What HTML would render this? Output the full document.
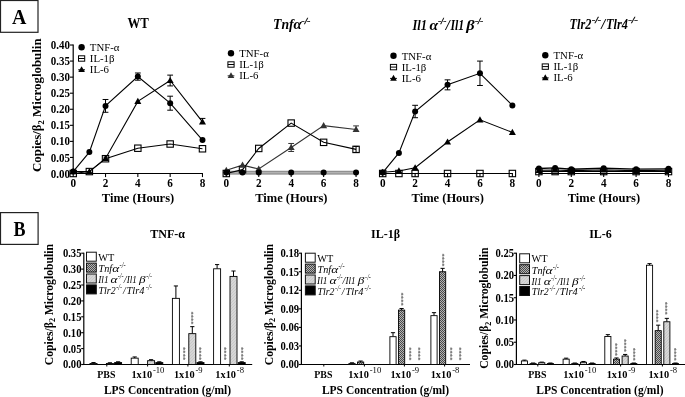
<!DOCTYPE html>
<html><head><meta charset="utf-8"><title>Figure</title>
<style>html,body{margin:0;padding:0;background:#fff;}body{width:685px;height:397px;overflow:hidden;}svg{display:block;font-family:"Liberation Serif",serif;will-change:transform;}</style>
</head><body>
<svg width="685" height="397" viewBox="0 0 685 397">
<defs>
<pattern id="chk" width="2" height="2" patternUnits="userSpaceOnUse"><rect width="2" height="2" fill="#b4b4b4"/><rect width="1" height="1" fill="#4a4a4a"/><rect x="1" y="1" width="1" height="1" fill="#4a4a4a"/></pattern>
<pattern id="hat" width="3" height="3" patternUnits="userSpaceOnUse"><rect width="3" height="3" fill="#d6d6d6"/><path d="M-1 1 L1 -1 M0 3 L3 0 M2 4 L4 2" stroke="#c2c2c2" stroke-width="0.7"/></pattern>
</defs>
<rect width="685" height="397" fill="#fff"/>
<rect x="0.5" y="0.5" width="37.5" height="31.8" fill="#fff" stroke="#222" stroke-width="1.2"/>
<text x="19.25" y="24.00" font-size="21" font-weight="bold" font-style="normal" text-anchor="middle" fill="#000" textLength="14.4" lengthAdjust="spacingAndGlyphs">A</text>
<rect x="0.5" y="212.6" width="37.6" height="31.8" fill="#fff" stroke="#222" stroke-width="1.2"/>
<text x="19.60" y="235.80" font-size="20.5" font-weight="bold" font-style="normal" text-anchor="middle" fill="#000" textLength="12.0" lengthAdjust="spacingAndGlyphs">B</text>
<line x1="73.20" y1="44.52" x2="73.20" y2="174.00" stroke="#000" stroke-width="1.2" />
<line x1="70.00" y1="173.50" x2="73.20" y2="173.50" stroke="#000" stroke-width="1.1" />
<text x="69.90" y="177.60" font-size="12.2" font-weight="bold" font-style="normal" text-anchor="end" fill="#000" textLength="19.2" lengthAdjust="spacingAndGlyphs">0.00</text>
<line x1="70.00" y1="157.44" x2="73.20" y2="157.44" stroke="#000" stroke-width="1.1" />
<text x="69.90" y="161.54" font-size="12.2" font-weight="bold" font-style="normal" text-anchor="end" fill="#000" textLength="19.2" lengthAdjust="spacingAndGlyphs">0.05</text>
<line x1="70.00" y1="141.38" x2="73.20" y2="141.38" stroke="#000" stroke-width="1.1" />
<text x="69.90" y="145.48" font-size="12.2" font-weight="bold" font-style="normal" text-anchor="end" fill="#000" textLength="19.2" lengthAdjust="spacingAndGlyphs">0.10</text>
<line x1="70.00" y1="125.32" x2="73.20" y2="125.32" stroke="#000" stroke-width="1.1" />
<text x="69.90" y="129.42" font-size="12.2" font-weight="bold" font-style="normal" text-anchor="end" fill="#000" textLength="19.2" lengthAdjust="spacingAndGlyphs">0.15</text>
<line x1="70.00" y1="109.26" x2="73.20" y2="109.26" stroke="#000" stroke-width="1.1" />
<text x="69.90" y="113.36" font-size="12.2" font-weight="bold" font-style="normal" text-anchor="end" fill="#000" textLength="19.2" lengthAdjust="spacingAndGlyphs">0.20</text>
<line x1="70.00" y1="93.20" x2="73.20" y2="93.20" stroke="#000" stroke-width="1.1" />
<text x="69.90" y="97.30" font-size="12.2" font-weight="bold" font-style="normal" text-anchor="end" fill="#000" textLength="19.2" lengthAdjust="spacingAndGlyphs">0.25</text>
<line x1="70.00" y1="77.14" x2="73.20" y2="77.14" stroke="#000" stroke-width="1.1" />
<text x="69.90" y="81.24" font-size="12.2" font-weight="bold" font-style="normal" text-anchor="end" fill="#000" textLength="19.2" lengthAdjust="spacingAndGlyphs">0.30</text>
<line x1="70.00" y1="61.08" x2="73.20" y2="61.08" stroke="#000" stroke-width="1.1" />
<text x="69.90" y="65.18" font-size="12.2" font-weight="bold" font-style="normal" text-anchor="end" fill="#000" textLength="19.2" lengthAdjust="spacingAndGlyphs">0.35</text>
<line x1="70.00" y1="45.02" x2="73.20" y2="45.02" stroke="#000" stroke-width="1.1" />
<text x="69.90" y="49.12" font-size="12.2" font-weight="bold" font-style="normal" text-anchor="end" fill="#000" textLength="19.2" lengthAdjust="spacingAndGlyphs">0.40</text>
<text transform="translate(41.4,105.2) rotate(-90)" font-size="12.9" font-weight="bold" text-anchor="middle">Copies/β<tspan font-size="8.5" dy="2.6">2</tspan><tspan dy="-2.6"> Microglobulin</tspan></text>
<line x1="72.70" y1="173.50" x2="202.98" y2="173.50" stroke="#000" stroke-width="1.2" />
<line x1="73.20" y1="173.50" x2="73.20" y2="177.10" stroke="#000" stroke-width="1.1" />
<text x="73.20" y="187.40" font-size="12.2" font-weight="bold" font-style="normal" text-anchor="middle" fill="#000" textLength="5.6" lengthAdjust="spacingAndGlyphs">0</text>
<line x1="105.52" y1="173.50" x2="105.52" y2="177.10" stroke="#000" stroke-width="1.1" />
<text x="105.52" y="187.40" font-size="12.2" font-weight="bold" font-style="normal" text-anchor="middle" fill="#000" textLength="5.6" lengthAdjust="spacingAndGlyphs">2</text>
<line x1="137.84" y1="173.50" x2="137.84" y2="177.10" stroke="#000" stroke-width="1.1" />
<text x="137.84" y="187.40" font-size="12.2" font-weight="bold" font-style="normal" text-anchor="middle" fill="#000" textLength="5.6" lengthAdjust="spacingAndGlyphs">4</text>
<line x1="170.16" y1="173.50" x2="170.16" y2="177.10" stroke="#000" stroke-width="1.1" />
<text x="170.16" y="187.40" font-size="12.2" font-weight="bold" font-style="normal" text-anchor="middle" fill="#000" textLength="5.6" lengthAdjust="spacingAndGlyphs">6</text>
<line x1="202.48" y1="173.50" x2="202.48" y2="177.10" stroke="#000" stroke-width="1.1" />
<text x="202.48" y="187.40" font-size="12.2" font-weight="bold" font-style="normal" text-anchor="middle" fill="#000" textLength="5.6" lengthAdjust="spacingAndGlyphs">8</text>
<text x="138.04" y="202.20" font-size="12.5" font-weight="bold" font-style="normal" text-anchor="middle" fill="#000" >Time (Hours)</text>
<text x="138.20" y="27.90" font-size="14.3" font-weight="bold" font-style="normal" text-anchor="middle" fill="#000" textLength="21.4" lengthAdjust="spacingAndGlyphs">WT</text>
<circle cx="81.60" cy="47.20" r="3.2" fill="#000"/>
<text x="89.80" y="50.90" font-size="10.8" font-weight="normal" font-style="normal" text-anchor="start" fill="#000" >TNF-α</text>
<rect x="78.50" y="55.80" width="6.2" height="5.4" fill="none" stroke="#000" stroke-width="1"/>
<line x1="78.50" y1="58.50" x2="84.70" y2="58.50" stroke="#000" stroke-width="1.0" />
<text x="89.80" y="62.20" font-size="10.8" font-weight="normal" font-style="normal" text-anchor="start" fill="#000" >IL-1β</text>
<path d="M81.60 66.23 L84.90 72.04 L78.30 72.04 Z" fill="#000"/>
<line x1="78.20" y1="69.80" x2="85.00" y2="69.80" stroke="#000" stroke-width="1.0" />
<text x="89.80" y="73.30" font-size="10.8" font-weight="normal" font-style="normal" text-anchor="start" fill="#000" >IL-6</text>
<polyline points="73.20,173.50 89.36,171.57 105.52,158.72 137.84,148.22 170.16,144.01 202.48,148.77" fill="none" stroke="#000" stroke-width="1.1"/>
<polyline points="73.20,171.57 89.36,171.57 105.52,158.50 137.84,101.39 170.16,80.51 202.48,121.92" fill="none" stroke="#000" stroke-width="1.1"/>
<polyline points="73.20,171.57 89.36,152.11 105.52,105.89 137.84,76.59 170.16,103.19 202.48,140.10" fill="none" stroke="#000" stroke-width="1.1"/>
<line x1="105.52" y1="99.49" x2="105.52" y2="112.29" stroke="#000" stroke-width="1.0" />
<line x1="102.62" y1="99.49" x2="108.42" y2="99.49" stroke="#000" stroke-width="1.0" />
<line x1="102.62" y1="112.29" x2="108.42" y2="112.29" stroke="#000" stroke-width="1.0" />
<line x1="137.84" y1="72.99" x2="137.84" y2="80.19" stroke="#000" stroke-width="1.0" />
<line x1="134.94" y1="72.99" x2="140.74" y2="72.99" stroke="#000" stroke-width="1.0" />
<line x1="134.94" y1="80.19" x2="140.74" y2="80.19" stroke="#000" stroke-width="1.0" />
<line x1="170.16" y1="96.19" x2="170.16" y2="110.19" stroke="#000" stroke-width="1.0" />
<line x1="167.26" y1="96.19" x2="173.06" y2="96.19" stroke="#000" stroke-width="1.0" />
<line x1="167.26" y1="110.19" x2="173.06" y2="110.19" stroke="#000" stroke-width="1.0" />
<line x1="170.16" y1="75.11" x2="170.16" y2="85.91" stroke="#000" stroke-width="1.0" />
<line x1="167.26" y1="75.11" x2="173.06" y2="75.11" stroke="#000" stroke-width="1.0" />
<line x1="167.26" y1="85.91" x2="173.06" y2="85.91" stroke="#000" stroke-width="1.0" />
<line x1="202.48" y1="118.42" x2="202.48" y2="121.92" stroke="#000" stroke-width="1.0" />
<line x1="199.58" y1="118.42" x2="205.38" y2="118.42" stroke="#000" stroke-width="1.0" />
<line x1="105.52" y1="157.12" x2="105.52" y2="160.32" stroke="#000" stroke-width="1.0" />
<line x1="103.52" y1="157.12" x2="107.52" y2="157.12" stroke="#000" stroke-width="1.0" />
<line x1="103.52" y1="160.32" x2="107.52" y2="160.32" stroke="#000" stroke-width="1.0" />
<rect x="70.00" y="170.30" width="6.4" height="6.4" fill="none" stroke="#000" stroke-width="1.1"/>
<rect x="86.16" y="168.37" width="6.4" height="6.4" fill="none" stroke="#000" stroke-width="1.1"/>
<rect x="102.32" y="155.52" width="6.4" height="6.4" fill="none" stroke="#000" stroke-width="1.1"/>
<rect x="134.64" y="145.02" width="6.4" height="6.4" fill="none" stroke="#000" stroke-width="1.1"/>
<rect x="166.96" y="140.81" width="6.4" height="6.4" fill="none" stroke="#000" stroke-width="1.1"/>
<rect x="199.28" y="145.57" width="6.4" height="6.4" fill="none" stroke="#000" stroke-width="1.1"/>
<path d="M73.20 168.00 L76.70 174.16 L69.70 174.16 Z" fill="#000"/>
<path d="M89.36 168.00 L92.86 174.16 L85.86 174.16 Z" fill="#000"/>
<path d="M105.52 154.93 L109.02 161.09 L102.02 161.09 Z" fill="#000"/>
<path d="M137.84 97.82 L141.34 103.98 L134.34 103.98 Z" fill="#000"/>
<path d="M170.16 76.94 L173.66 83.10 L166.66 83.10 Z" fill="#000"/>
<path d="M202.48 118.34 L205.98 124.50 L198.98 124.50 Z" fill="#000"/>
<circle cx="73.20" cy="171.57" r="3.0" fill="#000"/>
<circle cx="89.36" cy="152.11" r="3.0" fill="#000"/>
<circle cx="105.52" cy="105.89" r="3.0" fill="#000"/>
<circle cx="137.84" cy="76.59" r="3.0" fill="#000"/>
<circle cx="170.16" cy="103.19" r="3.0" fill="#000"/>
<circle cx="202.48" cy="140.10" r="3.0" fill="#000"/>
<rect x="225.80" y="170.90" width="130.76" height="3.5" fill="#b2b2b2"/>
<line x1="225.80" y1="171.30" x2="356.56" y2="171.30" stroke="#7c7c7c" stroke-width="0.8" />
<line x1="225.80" y1="174.00" x2="356.56" y2="174.00" stroke="#7c7c7c" stroke-width="0.8" />
<line x1="226.30" y1="173.50" x2="226.30" y2="177.10" stroke="#000" stroke-width="1.1" />
<text x="226.30" y="187.40" font-size="12.2" font-weight="bold" font-style="normal" text-anchor="middle" fill="#000" textLength="5.6" lengthAdjust="spacingAndGlyphs">0</text>
<line x1="258.74" y1="173.50" x2="258.74" y2="177.10" stroke="#000" stroke-width="1.1" />
<text x="258.74" y="187.40" font-size="12.2" font-weight="bold" font-style="normal" text-anchor="middle" fill="#000" textLength="5.6" lengthAdjust="spacingAndGlyphs">2</text>
<line x1="291.18" y1="173.50" x2="291.18" y2="177.10" stroke="#000" stroke-width="1.1" />
<text x="291.18" y="187.40" font-size="12.2" font-weight="bold" font-style="normal" text-anchor="middle" fill="#000" textLength="5.6" lengthAdjust="spacingAndGlyphs">4</text>
<line x1="323.62" y1="173.50" x2="323.62" y2="177.10" stroke="#000" stroke-width="1.1" />
<text x="323.62" y="187.40" font-size="12.2" font-weight="bold" font-style="normal" text-anchor="middle" fill="#000" textLength="5.6" lengthAdjust="spacingAndGlyphs">6</text>
<line x1="356.06" y1="173.50" x2="356.06" y2="177.10" stroke="#000" stroke-width="1.1" />
<text x="356.06" y="187.40" font-size="12.2" font-weight="bold" font-style="normal" text-anchor="middle" fill="#000" textLength="5.6" lengthAdjust="spacingAndGlyphs">8</text>
<text x="291.38" y="202.20" font-size="12.5" font-weight="bold" font-style="normal" text-anchor="middle" fill="#000" >Time (Hours)</text>
<text x="273.10" y="29.40" font-size="14.5" font-weight="bold" font-style="italic" text-anchor="start" fill="#000" textLength="20.6" lengthAdjust="spacingAndGlyphs">Tnf</text>
<text x="293.60" y="29.40" font-size="15.5" font-weight="bold" font-style="italic" text-anchor="start" fill="#000" textLength="8.2" lengthAdjust="spacingAndGlyphs">α</text>
<text x="301.6" y="23.6" font-size="9" font-weight="bold" font-style="italic" stroke="#000" stroke-width="0.35" textLength="8.6" lengthAdjust="spacingAndGlyphs">-/-</text>
<circle cx="231.00" cy="53.20" r="3.2" fill="#000"/>
<text x="239.20" y="56.90" font-size="10.8" font-weight="normal" font-style="normal" text-anchor="start" fill="#000" >TNF-α</text>
<rect x="227.90" y="61.80" width="6.2" height="5.4" fill="none" stroke="#000" stroke-width="1"/>
<line x1="227.90" y1="64.50" x2="234.10" y2="64.50" stroke="#000" stroke-width="1.0" />
<text x="239.20" y="68.20" font-size="10.8" font-weight="normal" font-style="normal" text-anchor="start" fill="#000" >IL-1β</text>
<path d="M231.00 72.23 L234.30 78.04 L227.70 78.04 Z" fill="#333"/>
<line x1="227.60" y1="75.80" x2="234.40" y2="75.80" stroke="#333" stroke-width="1.0" />
<text x="239.20" y="79.30" font-size="10.8" font-weight="normal" font-style="normal" text-anchor="start" fill="#000" >IL-6</text>
<polyline points="226.30,170.29 242.52,165.15 258.74,169.00 291.18,147.48 323.62,125.64 356.06,129.50" fill="none" stroke="#333" stroke-width="1.1"/>
<polyline points="226.30,173.50 242.52,169.65 258.74,148.45 291.18,123.07 323.62,142.34 356.06,149.41" fill="none" stroke="#000" stroke-width="1.1"/>
<line x1="291.18" y1="143.48" x2="291.18" y2="151.48" stroke="#333" stroke-width="1.0" />
<line x1="288.28" y1="143.48" x2="294.08" y2="143.48" stroke="#333" stroke-width="1.0" />
<line x1="288.28" y1="151.48" x2="294.08" y2="151.48" stroke="#333" stroke-width="1.0" />
<line x1="356.06" y1="125.90" x2="356.06" y2="129.50" stroke="#333" stroke-width="1.0" />
<line x1="353.16" y1="125.90" x2="358.96" y2="125.90" stroke="#333" stroke-width="1.0" />
<line x1="356.06" y1="146.41" x2="356.06" y2="152.41" stroke="#000" stroke-width="1.0" />
<line x1="353.56" y1="146.41" x2="358.56" y2="146.41" stroke="#000" stroke-width="1.0" />
<line x1="353.56" y1="152.41" x2="358.56" y2="152.41" stroke="#000" stroke-width="1.0" />
<rect x="223.10" y="170.30" width="6.4" height="6.4" fill="none" stroke="#000" stroke-width="1.1"/>
<rect x="239.32" y="166.45" width="6.4" height="6.4" fill="none" stroke="#000" stroke-width="1.1"/>
<rect x="255.54" y="145.25" width="6.4" height="6.4" fill="none" stroke="#000" stroke-width="1.1"/>
<rect x="287.98" y="119.87" width="6.4" height="6.4" fill="none" stroke="#000" stroke-width="1.1"/>
<rect x="320.42" y="139.14" width="6.4" height="6.4" fill="none" stroke="#000" stroke-width="1.1"/>
<rect x="352.86" y="146.21" width="6.4" height="6.4" fill="none" stroke="#000" stroke-width="1.1"/>
<path d="M226.30 166.72 L229.80 172.88 L222.80 172.88 Z" fill="#333"/>
<path d="M242.52 161.58 L246.02 167.74 L239.02 167.74 Z" fill="#333"/>
<path d="M258.74 165.43 L262.24 171.59 L255.24 171.59 Z" fill="#333"/>
<path d="M291.18 143.91 L294.68 150.07 L287.68 150.07 Z" fill="#333"/>
<path d="M323.62 122.07 L327.12 128.23 L320.12 128.23 Z" fill="#333"/>
<path d="M356.06 125.92 L359.56 132.08 L352.56 132.08 Z" fill="#333"/>
<circle cx="226.30" cy="172.54" r="3.0" fill="#000"/>
<circle cx="242.52" cy="172.54" r="3.0" fill="#000"/>
<circle cx="258.74" cy="172.54" r="3.0" fill="#000"/>
<circle cx="291.18" cy="172.54" r="3.0" fill="#000"/>
<circle cx="323.62" cy="172.54" r="3.0" fill="#000"/>
<circle cx="356.06" cy="172.54" r="3.0" fill="#000"/>
<line x1="382.20" y1="173.50" x2="512.88" y2="173.50" stroke="#000" stroke-width="1.2" />
<line x1="382.70" y1="173.50" x2="382.70" y2="177.10" stroke="#000" stroke-width="1.1" />
<text x="382.70" y="187.40" font-size="12.2" font-weight="bold" font-style="normal" text-anchor="middle" fill="#000" textLength="5.6" lengthAdjust="spacingAndGlyphs">0</text>
<line x1="415.12" y1="173.50" x2="415.12" y2="177.10" stroke="#000" stroke-width="1.1" />
<text x="415.12" y="187.40" font-size="12.2" font-weight="bold" font-style="normal" text-anchor="middle" fill="#000" textLength="5.6" lengthAdjust="spacingAndGlyphs">2</text>
<line x1="447.54" y1="173.50" x2="447.54" y2="177.10" stroke="#000" stroke-width="1.1" />
<text x="447.54" y="187.40" font-size="12.2" font-weight="bold" font-style="normal" text-anchor="middle" fill="#000" textLength="5.6" lengthAdjust="spacingAndGlyphs">4</text>
<line x1="479.96" y1="173.50" x2="479.96" y2="177.10" stroke="#000" stroke-width="1.1" />
<text x="479.96" y="187.40" font-size="12.2" font-weight="bold" font-style="normal" text-anchor="middle" fill="#000" textLength="5.6" lengthAdjust="spacingAndGlyphs">6</text>
<line x1="512.38" y1="173.50" x2="512.38" y2="177.10" stroke="#000" stroke-width="1.1" />
<text x="512.38" y="187.40" font-size="12.2" font-weight="bold" font-style="normal" text-anchor="middle" fill="#000" textLength="5.6" lengthAdjust="spacingAndGlyphs">8</text>
<text x="447.74" y="202.20" font-size="12.5" font-weight="bold" font-style="normal" text-anchor="middle" fill="#000" >Time (Hours)</text>
<text x="412.40" y="30.30" font-size="14.5" font-weight="bold" font-style="italic" text-anchor="start" fill="#000" textLength="14.6" lengthAdjust="spacingAndGlyphs">Il1</text>
<text x="429.40" y="30.30" font-size="15.5" font-weight="bold" font-style="italic" text-anchor="start" fill="#000" textLength="8.6" lengthAdjust="spacingAndGlyphs">α</text>
<text x="438.3" y="24.4" font-size="9" font-weight="bold" font-style="italic" stroke="#000" stroke-width="0.35" textLength="8.0" lengthAdjust="spacingAndGlyphs">-/-</text>
<text x="445.80" y="30.30" font-size="14.5" font-weight="bold" font-style="italic" text-anchor="start" fill="#000" >/</text>
<text x="450.40" y="30.30" font-size="14.5" font-weight="bold" font-style="italic" text-anchor="start" fill="#000" textLength="13.8" lengthAdjust="spacingAndGlyphs">Il1</text>
<text x="466.20" y="30.30" font-size="15.5" font-weight="bold" font-style="italic" text-anchor="start" fill="#000" textLength="8.4" lengthAdjust="spacingAndGlyphs">β</text>
<text x="475.2" y="24.4" font-size="9" font-weight="bold" font-style="italic" stroke="#000" stroke-width="0.35" textLength="8.0" lengthAdjust="spacingAndGlyphs">-/-</text>
<circle cx="393.50" cy="55.80" r="3.2" fill="#000"/>
<text x="401.70" y="59.50" font-size="10.8" font-weight="normal" font-style="normal" text-anchor="start" fill="#000" >TNF-α</text>
<rect x="390.40" y="64.40" width="6.2" height="5.4" fill="none" stroke="#000" stroke-width="1"/>
<line x1="390.40" y1="67.10" x2="396.60" y2="67.10" stroke="#000" stroke-width="1.0" />
<text x="401.70" y="70.80" font-size="10.8" font-weight="normal" font-style="normal" text-anchor="start" fill="#000" >IL-1β</text>
<path d="M393.50 74.83 L396.80 80.64 L390.20 80.64 Z" fill="#000"/>
<line x1="390.10" y1="78.40" x2="396.90" y2="78.40" stroke="#000" stroke-width="1.0" />
<text x="401.70" y="81.90" font-size="10.8" font-weight="normal" font-style="normal" text-anchor="start" fill="#000" >IL-6</text>
<polyline points="382.70,173.50 398.91,173.50 415.12,173.50 447.54,173.50 479.96,173.50 512.38,173.50" fill="none" stroke="#000" stroke-width="1.1"/>
<polyline points="382.70,172.22 398.91,170.93 415.12,167.72 447.54,142.02 479.96,119.86 512.38,132.39" fill="none" stroke="#000" stroke-width="1.1"/>
<polyline points="382.70,172.54 398.91,152.94 415.12,111.51 447.54,84.85 479.96,73.29 512.38,105.41" fill="none" stroke="#000" stroke-width="1.1"/>
<line x1="415.12" y1="105.31" x2="415.12" y2="117.71" stroke="#000" stroke-width="1.0" />
<line x1="412.22" y1="105.31" x2="418.02" y2="105.31" stroke="#000" stroke-width="1.0" />
<line x1="412.22" y1="117.71" x2="418.02" y2="117.71" stroke="#000" stroke-width="1.0" />
<line x1="447.54" y1="79.85" x2="447.54" y2="89.85" stroke="#000" stroke-width="1.0" />
<line x1="444.64" y1="79.85" x2="450.44" y2="79.85" stroke="#000" stroke-width="1.0" />
<line x1="444.64" y1="89.85" x2="450.44" y2="89.85" stroke="#000" stroke-width="1.0" />
<line x1="479.96" y1="61.09" x2="479.96" y2="85.49" stroke="#000" stroke-width="1.0" />
<line x1="477.06" y1="61.09" x2="482.86" y2="61.09" stroke="#000" stroke-width="1.0" />
<line x1="477.06" y1="85.49" x2="482.86" y2="85.49" stroke="#000" stroke-width="1.0" />
<rect x="379.50" y="170.30" width="6.4" height="6.4" fill="none" stroke="#000" stroke-width="1.1"/>
<rect x="395.71" y="170.30" width="6.4" height="6.4" fill="none" stroke="#000" stroke-width="1.1"/>
<rect x="411.92" y="170.30" width="6.4" height="6.4" fill="none" stroke="#000" stroke-width="1.1"/>
<rect x="444.34" y="170.30" width="6.4" height="6.4" fill="none" stroke="#000" stroke-width="1.1"/>
<rect x="476.76" y="170.30" width="6.4" height="6.4" fill="none" stroke="#000" stroke-width="1.1"/>
<rect x="509.18" y="170.30" width="6.4" height="6.4" fill="none" stroke="#000" stroke-width="1.1"/>
<path d="M382.70 168.64 L386.20 174.80 L379.20 174.80 Z" fill="#000"/>
<path d="M398.91 167.36 L402.41 173.52 L395.41 173.52 Z" fill="#000"/>
<path d="M415.12 164.15 L418.62 170.31 L411.62 170.31 Z" fill="#000"/>
<path d="M447.54 138.45 L451.04 144.61 L444.04 144.61 Z" fill="#000"/>
<path d="M479.96 116.29 L483.46 122.45 L476.46 122.45 Z" fill="#000"/>
<path d="M512.38 128.81 L515.88 134.97 L508.88 134.97 Z" fill="#000"/>
<circle cx="382.70" cy="172.54" r="3.0" fill="#000"/>
<circle cx="398.91" cy="152.94" r="3.0" fill="#000"/>
<circle cx="415.12" cy="111.51" r="3.0" fill="#000"/>
<circle cx="447.54" cy="84.85" r="3.0" fill="#000"/>
<circle cx="479.96" cy="73.29" r="3.0" fill="#000"/>
<circle cx="512.38" cy="105.41" r="3.0" fill="#000"/>
<line x1="538.40" y1="173.50" x2="669.00" y2="173.50" stroke="#000" stroke-width="1.2" />
<line x1="538.90" y1="173.50" x2="538.90" y2="177.10" stroke="#000" stroke-width="1.1" />
<text x="538.90" y="187.40" font-size="12.2" font-weight="bold" font-style="normal" text-anchor="middle" fill="#000" textLength="5.6" lengthAdjust="spacingAndGlyphs">0</text>
<line x1="571.30" y1="173.50" x2="571.30" y2="177.10" stroke="#000" stroke-width="1.1" />
<text x="571.30" y="187.40" font-size="12.2" font-weight="bold" font-style="normal" text-anchor="middle" fill="#000" textLength="5.6" lengthAdjust="spacingAndGlyphs">2</text>
<line x1="603.70" y1="173.50" x2="603.70" y2="177.10" stroke="#000" stroke-width="1.1" />
<text x="603.70" y="187.40" font-size="12.2" font-weight="bold" font-style="normal" text-anchor="middle" fill="#000" textLength="5.6" lengthAdjust="spacingAndGlyphs">4</text>
<line x1="636.10" y1="173.50" x2="636.10" y2="177.10" stroke="#000" stroke-width="1.1" />
<text x="636.10" y="187.40" font-size="12.2" font-weight="bold" font-style="normal" text-anchor="middle" fill="#000" textLength="5.6" lengthAdjust="spacingAndGlyphs">6</text>
<line x1="668.50" y1="173.50" x2="668.50" y2="177.10" stroke="#000" stroke-width="1.1" />
<text x="668.50" y="187.40" font-size="12.2" font-weight="bold" font-style="normal" text-anchor="middle" fill="#000" textLength="5.6" lengthAdjust="spacingAndGlyphs">8</text>
<text x="603.90" y="202.20" font-size="12.5" font-weight="bold" font-style="normal" text-anchor="middle" fill="#000" >Time (Hours)</text>
<text x="569.60" y="29.20" font-size="14.5" font-weight="bold" font-style="italic" text-anchor="start" fill="#000" textLength="21.9" lengthAdjust="spacingAndGlyphs">Tlr2</text>
<text x="592.0" y="23.2" font-size="9" font-weight="bold" font-style="italic" stroke="#000" stroke-width="0.35" textLength="9.0" lengthAdjust="spacingAndGlyphs">-/-</text>
<text x="601.20" y="29.20" font-size="14.5" font-weight="bold" font-style="italic" text-anchor="start" fill="#000" >/</text>
<text x="606.10" y="29.20" font-size="14.5" font-weight="bold" font-style="italic" text-anchor="start" fill="#000" textLength="21.9" lengthAdjust="spacingAndGlyphs">Tlr4</text>
<text x="628.6" y="23.2" font-size="9" font-weight="bold" font-style="italic" stroke="#000" stroke-width="0.35" textLength="9.2" lengthAdjust="spacingAndGlyphs">-/-</text>
<circle cx="545.30" cy="55.30" r="3.2" fill="#000"/>
<text x="553.50" y="59.00" font-size="10.8" font-weight="normal" font-style="normal" text-anchor="start" fill="#000" >TNF-α</text>
<rect x="542.20" y="63.90" width="6.2" height="5.4" fill="none" stroke="#000" stroke-width="1"/>
<line x1="542.20" y1="66.60" x2="548.40" y2="66.60" stroke="#000" stroke-width="1.0" />
<text x="553.50" y="70.30" font-size="10.8" font-weight="normal" font-style="normal" text-anchor="start" fill="#000" >IL-1β</text>
<path d="M545.30 74.33 L548.60 80.14 L542.00 80.14 Z" fill="#000"/>
<line x1="541.90" y1="77.90" x2="548.70" y2="77.90" stroke="#000" stroke-width="1.0" />
<text x="553.50" y="81.40" font-size="10.8" font-weight="normal" font-style="normal" text-anchor="start" fill="#000" >IL-6</text>
<polyline points="538.90,171.57 555.10,171.57 571.30,171.57 603.70,171.57 636.10,171.57 668.50,171.57" fill="none" stroke="#000" stroke-width="1.1"/>
<polyline points="538.90,170.29 555.10,169.97 571.30,170.61 603.70,169.97 636.10,170.61 668.50,170.29" fill="none" stroke="#000" stroke-width="1.1"/>
<polyline points="538.90,168.52 555.10,167.88 571.30,169.32 603.70,168.20 636.10,169.16 668.50,168.84" fill="none" stroke="#000" stroke-width="1.4"/>
<rect x="535.70" y="168.37" width="6.4" height="6.4" fill="none" stroke="#000" stroke-width="1.1"/>
<rect x="551.90" y="168.37" width="6.4" height="6.4" fill="none" stroke="#000" stroke-width="1.1"/>
<rect x="568.10" y="168.37" width="6.4" height="6.4" fill="none" stroke="#000" stroke-width="1.1"/>
<rect x="600.50" y="168.37" width="6.4" height="6.4" fill="none" stroke="#000" stroke-width="1.1"/>
<rect x="632.90" y="168.37" width="6.4" height="6.4" fill="none" stroke="#000" stroke-width="1.1"/>
<rect x="665.30" y="168.37" width="6.4" height="6.4" fill="none" stroke="#000" stroke-width="1.1"/>
<path d="M538.90 166.72 L542.40 172.88 L535.40 172.88 Z" fill="#000"/>
<path d="M555.10 166.39 L558.60 172.55 L551.60 172.55 Z" fill="#000"/>
<path d="M571.30 167.04 L574.80 173.20 L567.80 173.20 Z" fill="#000"/>
<path d="M603.70 166.39 L607.20 172.55 L600.20 172.55 Z" fill="#000"/>
<path d="M636.10 167.04 L639.60 173.20 L632.60 173.20 Z" fill="#000"/>
<path d="M668.50 166.72 L672.00 172.88 L665.00 172.88 Z" fill="#000"/>
<circle cx="538.90" cy="168.52" r="3.0" fill="#000"/>
<circle cx="555.10" cy="167.88" r="3.0" fill="#000"/>
<circle cx="571.30" cy="169.32" r="3.0" fill="#000"/>
<circle cx="603.70" cy="168.20" r="3.0" fill="#000"/>
<circle cx="636.10" cy="169.16" r="3.0" fill="#000"/>
<circle cx="668.50" cy="168.84" r="3.0" fill="#000"/>
<line x1="83.80" y1="252.70" x2="83.80" y2="365.00" stroke="#000" stroke-width="1.2" />
<line x1="83.30" y1="364.50" x2="252.20" y2="364.50" stroke="#000" stroke-width="1.2" />
<line x1="81.20" y1="364.50" x2="83.80" y2="364.50" stroke="#000" stroke-width="1.1" />
<text x="81.50" y="368.40" font-size="11.5" font-weight="bold" font-style="normal" text-anchor="end" fill="#000" textLength="18.6" lengthAdjust="spacingAndGlyphs">0.00</text>
<line x1="81.20" y1="348.60" x2="83.80" y2="348.60" stroke="#000" stroke-width="1.1" />
<text x="81.50" y="352.50" font-size="11.5" font-weight="bold" font-style="normal" text-anchor="end" fill="#000" textLength="18.6" lengthAdjust="spacingAndGlyphs">0.05</text>
<line x1="81.20" y1="332.70" x2="83.80" y2="332.70" stroke="#000" stroke-width="1.1" />
<text x="81.50" y="336.60" font-size="11.5" font-weight="bold" font-style="normal" text-anchor="end" fill="#000" textLength="18.6" lengthAdjust="spacingAndGlyphs">0.10</text>
<line x1="81.20" y1="316.80" x2="83.80" y2="316.80" stroke="#000" stroke-width="1.1" />
<text x="81.50" y="320.70" font-size="11.5" font-weight="bold" font-style="normal" text-anchor="end" fill="#000" textLength="18.6" lengthAdjust="spacingAndGlyphs">0.15</text>
<line x1="81.20" y1="300.90" x2="83.80" y2="300.90" stroke="#000" stroke-width="1.1" />
<text x="81.50" y="304.80" font-size="11.5" font-weight="bold" font-style="normal" text-anchor="end" fill="#000" textLength="18.6" lengthAdjust="spacingAndGlyphs">0.20</text>
<line x1="81.20" y1="285.00" x2="83.80" y2="285.00" stroke="#000" stroke-width="1.1" />
<text x="81.50" y="288.90" font-size="11.5" font-weight="bold" font-style="normal" text-anchor="end" fill="#000" textLength="18.6" lengthAdjust="spacingAndGlyphs">0.25</text>
<line x1="81.20" y1="269.10" x2="83.80" y2="269.10" stroke="#000" stroke-width="1.1" />
<text x="81.50" y="273.00" font-size="11.5" font-weight="bold" font-style="normal" text-anchor="end" fill="#000" textLength="18.6" lengthAdjust="spacingAndGlyphs">0.30</text>
<line x1="81.20" y1="253.20" x2="83.80" y2="253.20" stroke="#000" stroke-width="1.1" />
<text x="81.50" y="257.10" font-size="11.5" font-weight="bold" font-style="normal" text-anchor="end" fill="#000" textLength="18.6" lengthAdjust="spacingAndGlyphs">0.35</text>
<text transform="translate(52.7,304.6) rotate(-90)" font-size="11.7" font-weight="bold" text-anchor="middle">Copies/β<tspan font-size="8" dy="2.4">2</tspan><tspan dy="-2.4"> Microglobulin</tspan></text>
<text x="167.70" y="238.00" font-size="12" font-weight="bold" font-style="normal" text-anchor="middle" fill="#000" >TNF-α</text>
<line x1="106.80" y1="364.50" x2="106.80" y2="366.50" stroke="#000" stroke-width="1.0" />
<text x="106.40" y="378.20" font-size="10.8" font-weight="bold" font-style="normal" text-anchor="middle" fill="#000" textLength="18.2" lengthAdjust="spacingAndGlyphs">PBS</text>
<line x1="93.50" y1="362.55" x2="93.50" y2="363.55" stroke="#000" stroke-width="1.0" />
<line x1="91.40" y1="362.55" x2="95.60" y2="362.55" stroke="#000" stroke-width="1.0" />
<rect x="90.00" y="363.55" width="7.00" height="0.95" fill="#fff" stroke="#000" stroke-width="0.9"/>
<line x1="109.90" y1="362.75" x2="109.90" y2="363.55" stroke="#000" stroke-width="1.0" />
<line x1="107.80" y1="362.75" x2="112.00" y2="362.75" stroke="#000" stroke-width="1.0" />
<rect x="106.40" y="363.55" width="7.00" height="0.95" fill="url(#hat)" stroke="#000" stroke-width="0.9"/>
<line x1="118.10" y1="361.79" x2="118.10" y2="362.59" stroke="#000" stroke-width="1.0" />
<line x1="116.00" y1="361.79" x2="120.20" y2="361.79" stroke="#000" stroke-width="1.0" />
<rect x="114.60" y="362.59" width="7.00" height="1.91" fill="#000" stroke="#000" stroke-width="0.9"/>
<line x1="147.60" y1="364.50" x2="147.60" y2="366.50" stroke="#000" stroke-width="1.0" />
<text x="131.45" y="378.10" font-size="10.8" font-weight="bold" font-style="normal" text-anchor="start" fill="#000" textLength="20.7" lengthAdjust="spacingAndGlyphs">1x10</text>
<text x="152.95" y="373.00" font-size="8.6" font-weight="normal" font-style="normal" text-anchor="start" fill="#000" >-10</text>
<line x1="134.70" y1="356.94" x2="134.70" y2="358.14" stroke="#000" stroke-width="1.0" />
<line x1="132.60" y1="356.94" x2="136.80" y2="356.94" stroke="#000" stroke-width="1.0" />
<rect x="131.20" y="358.14" width="7.00" height="6.36" fill="#fff" stroke="#000" stroke-width="0.9"/>
<line x1="151.10" y1="359.68" x2="151.10" y2="360.68" stroke="#000" stroke-width="1.0" />
<line x1="149.00" y1="359.68" x2="153.20" y2="359.68" stroke="#000" stroke-width="1.0" />
<rect x="147.60" y="360.68" width="7.00" height="3.82" fill="url(#hat)" stroke="#000" stroke-width="0.9"/>
<line x1="159.30" y1="361.79" x2="159.30" y2="362.59" stroke="#000" stroke-width="1.0" />
<line x1="157.20" y1="361.79" x2="161.40" y2="361.79" stroke="#000" stroke-width="1.0" />
<rect x="155.80" y="362.59" width="7.00" height="1.91" fill="#000" stroke="#000" stroke-width="0.9"/>
<line x1="187.90" y1="364.50" x2="187.90" y2="366.50" stroke="#000" stroke-width="1.0" />
<text x="173.95" y="378.10" font-size="10.8" font-weight="bold" font-style="normal" text-anchor="start" fill="#000" textLength="20.7" lengthAdjust="spacingAndGlyphs">1x10</text>
<text x="195.45" y="373.00" font-size="8.6" font-weight="normal" font-style="normal" text-anchor="start" fill="#000" >-9</text>
<line x1="175.90" y1="285.96" x2="175.90" y2="298.36" stroke="#000" stroke-width="1.0" />
<line x1="173.80" y1="285.96" x2="178.00" y2="285.96" stroke="#000" stroke-width="1.0" />
<rect x="172.40" y="298.36" width="7.00" height="66.14" fill="#fff" stroke="#000" stroke-width="0.9"/>
<text transform="translate(186.90,360.20) rotate(-90)" font-size="6.6" font-weight="bold" fill="#505050" letter-spacing="0">****</text>
<line x1="192.30" y1="326.65" x2="192.30" y2="333.65" stroke="#000" stroke-width="1.0" />
<line x1="190.20" y1="326.65" x2="194.40" y2="326.65" stroke="#000" stroke-width="1.0" />
<rect x="188.80" y="333.65" width="7.00" height="30.85" fill="url(#hat)" stroke="#000" stroke-width="0.9"/>
<line x1="200.50" y1="361.79" x2="200.50" y2="362.59" stroke="#000" stroke-width="1.0" />
<line x1="198.40" y1="361.79" x2="202.60" y2="361.79" stroke="#000" stroke-width="1.0" />
<rect x="197.00" y="362.59" width="7.00" height="1.91" fill="#000" stroke="#000" stroke-width="0.9"/>
<line x1="229.30" y1="364.50" x2="229.30" y2="366.50" stroke="#000" stroke-width="1.0" />
<text x="215.35" y="378.10" font-size="10.8" font-weight="bold" font-style="normal" text-anchor="start" fill="#000" textLength="20.7" lengthAdjust="spacingAndGlyphs">1x10</text>
<text x="236.85" y="373.00" font-size="8.6" font-weight="normal" font-style="normal" text-anchor="start" fill="#000" >-8</text>
<line x1="217.10" y1="264.58" x2="217.10" y2="268.78" stroke="#000" stroke-width="1.0" />
<line x1="215.00" y1="264.58" x2="219.20" y2="264.58" stroke="#000" stroke-width="1.0" />
<rect x="213.60" y="268.78" width="7.00" height="95.72" fill="#fff" stroke="#000" stroke-width="0.9"/>
<text transform="translate(228.10,360.20) rotate(-90)" font-size="6.6" font-weight="bold" fill="#505050" letter-spacing="0">****</text>
<line x1="233.50" y1="271.01" x2="233.50" y2="276.41" stroke="#000" stroke-width="1.0" />
<line x1="231.40" y1="271.01" x2="235.60" y2="271.01" stroke="#000" stroke-width="1.0" />
<rect x="230.00" y="276.41" width="7.00" height="88.09" fill="url(#hat)" stroke="#000" stroke-width="0.9"/>
<line x1="241.70" y1="361.79" x2="241.70" y2="362.59" stroke="#000" stroke-width="1.0" />
<line x1="239.60" y1="361.79" x2="243.80" y2="361.79" stroke="#000" stroke-width="1.0" />
<rect x="238.20" y="362.59" width="7.00" height="1.91" fill="#000" stroke="#000" stroke-width="0.9"/>
<text x="167.50" y="393.50" font-size="11.5" font-weight="bold" font-style="normal" text-anchor="middle" fill="#000" >LPS Concentration (g/ml)</text>
<rect x="86.50" y="252.20" width="9.8" height="9.0" fill="#fff" stroke="#111" stroke-width="1"/>
<rect x="86.50" y="263.10" width="9.8" height="9.0" fill="url(#chk)" stroke="#111" stroke-width="1"/>
<rect x="86.50" y="274.00" width="9.8" height="9.0" fill="url(#hat)" stroke="#111" stroke-width="1"/>
<rect x="86.50" y="284.90" width="9.8" height="9.0" fill="#000" stroke="#111" stroke-width="1"/>
<text x="98.30" y="260.60" font-size="10.5" font-weight="normal" font-style="normal" text-anchor="start" fill="#000" textLength="16.0" lengthAdjust="spacingAndGlyphs">WT</text>
<text x="98.60" y="272.00" font-size="9.8" font-weight="normal" font-style="italic" text-anchor="start" fill="#000" textLength="13.6" lengthAdjust="spacingAndGlyphs">Tnf</text>
<text x="112.30" y="272.00" font-size="11.0" font-weight="normal" font-style="italic" text-anchor="start" fill="#000" textLength="7.0" lengthAdjust="spacingAndGlyphs">α</text>
<text x="119.60" y="268.10" font-size="7.6" font-weight="normal" font-style="italic" text-anchor="start" fill="#000" textLength="6.0" lengthAdjust="spacingAndGlyphs">-/-</text>
<text x="98.20" y="283.00" font-size="9.8" font-weight="normal" font-style="italic" text-anchor="start" fill="#000" textLength="10.4" lengthAdjust="spacingAndGlyphs">Il1</text>
<text x="110.60" y="283.00" font-size="11.0" font-weight="normal" font-style="italic" text-anchor="start" fill="#000" textLength="7.0" lengthAdjust="spacingAndGlyphs">α</text>
<text x="117.80" y="279.10" font-size="7.6" font-weight="normal" font-style="italic" text-anchor="start" fill="#000" textLength="5.8" lengthAdjust="spacingAndGlyphs">-/-</text>
<text x="123.70" y="283.00" font-size="9.8" font-weight="normal" font-style="italic" text-anchor="start" fill="#000" >/</text>
<text x="126.70" y="283.00" font-size="9.8" font-weight="normal" font-style="italic" text-anchor="start" fill="#000" textLength="10.0" lengthAdjust="spacingAndGlyphs">Il1</text>
<text x="138.90" y="283.00" font-size="11.0" font-weight="normal" font-style="italic" text-anchor="start" fill="#000" textLength="6.6" lengthAdjust="spacingAndGlyphs">β</text>
<text x="146.20" y="279.10" font-size="7.6" font-weight="normal" font-style="italic" text-anchor="start" fill="#000" textLength="5.8" lengthAdjust="spacingAndGlyphs">-/-</text>
<text x="98.60" y="293.60" font-size="9.8" font-weight="normal" font-style="italic" text-anchor="start" fill="#000" textLength="17.0" lengthAdjust="spacingAndGlyphs">Tlr2</text>
<text x="116.20" y="289.70" font-size="7.6" font-weight="normal" font-style="italic" text-anchor="start" fill="#000" textLength="6.0" lengthAdjust="spacingAndGlyphs">-/-</text>
<text x="122.90" y="293.60" font-size="9.8" font-weight="normal" font-style="italic" text-anchor="start" fill="#000" >/</text>
<text x="126.60" y="293.60" font-size="9.8" font-weight="normal" font-style="italic" text-anchor="start" fill="#000" textLength="17.9" lengthAdjust="spacingAndGlyphs">Tlr4</text>
<text x="145.70" y="289.70" font-size="7.6" font-weight="normal" font-style="italic" text-anchor="start" fill="#000" textLength="6.4" lengthAdjust="spacingAndGlyphs">-/-</text>
<text transform="translate(195.00,324.60) rotate(-90)" font-size="6.6" font-weight="bold" fill="#505050" letter-spacing="0">****</text>
<text transform="translate(203.40,360.20) rotate(-90)" font-size="6.6" font-weight="bold" fill="#505050" letter-spacing="0">****</text>
<text transform="translate(244.60,360.20) rotate(-90)" font-size="6.6" font-weight="bold" fill="#505050" letter-spacing="0">****</text>
<line x1="301.40" y1="252.70" x2="301.40" y2="365.00" stroke="#000" stroke-width="1.2" />
<line x1="300.90" y1="364.50" x2="470.00" y2="364.50" stroke="#000" stroke-width="1.2" />
<line x1="298.80" y1="364.50" x2="301.40" y2="364.50" stroke="#000" stroke-width="1.1" />
<text x="299.10" y="368.40" font-size="11.5" font-weight="bold" font-style="normal" text-anchor="end" fill="#000" textLength="18.6" lengthAdjust="spacingAndGlyphs">0.00</text>
<line x1="298.80" y1="345.95" x2="301.40" y2="345.95" stroke="#000" stroke-width="1.1" />
<text x="299.10" y="349.85" font-size="11.5" font-weight="bold" font-style="normal" text-anchor="end" fill="#000" textLength="18.6" lengthAdjust="spacingAndGlyphs">0.03</text>
<line x1="298.80" y1="327.40" x2="301.40" y2="327.40" stroke="#000" stroke-width="1.1" />
<text x="299.10" y="331.30" font-size="11.5" font-weight="bold" font-style="normal" text-anchor="end" fill="#000" textLength="18.6" lengthAdjust="spacingAndGlyphs">0.06</text>
<line x1="298.80" y1="308.85" x2="301.40" y2="308.85" stroke="#000" stroke-width="1.1" />
<text x="299.10" y="312.75" font-size="11.5" font-weight="bold" font-style="normal" text-anchor="end" fill="#000" textLength="18.6" lengthAdjust="spacingAndGlyphs">0.09</text>
<line x1="298.80" y1="290.30" x2="301.40" y2="290.30" stroke="#000" stroke-width="1.1" />
<text x="299.10" y="294.20" font-size="11.5" font-weight="bold" font-style="normal" text-anchor="end" fill="#000" textLength="18.6" lengthAdjust="spacingAndGlyphs">0.12</text>
<line x1="298.80" y1="271.75" x2="301.40" y2="271.75" stroke="#000" stroke-width="1.1" />
<text x="299.10" y="275.65" font-size="11.5" font-weight="bold" font-style="normal" text-anchor="end" fill="#000" textLength="18.6" lengthAdjust="spacingAndGlyphs">0.15</text>
<line x1="298.80" y1="253.20" x2="301.40" y2="253.20" stroke="#000" stroke-width="1.1" />
<text x="299.10" y="257.10" font-size="11.5" font-weight="bold" font-style="normal" text-anchor="end" fill="#000" textLength="18.6" lengthAdjust="spacingAndGlyphs">0.18</text>
<text transform="translate(272.5,304.6) rotate(-90)" font-size="11.7" font-weight="bold" text-anchor="middle">Copies/β<tspan font-size="8" dy="2.4">2</tspan><tspan dy="-2.4"> Microglobulin</tspan></text>
<text x="385.50" y="238.00" font-size="12" font-weight="bold" font-style="normal" text-anchor="middle" fill="#000" >IL-1β</text>
<line x1="323.80" y1="364.50" x2="323.80" y2="366.50" stroke="#000" stroke-width="1.0" />
<text x="323.40" y="378.20" font-size="10.8" font-weight="bold" font-style="normal" text-anchor="middle" fill="#000" textLength="18.2" lengthAdjust="spacingAndGlyphs">PBS</text>
<line x1="364.40" y1="364.50" x2="364.40" y2="366.50" stroke="#000" stroke-width="1.0" />
<text x="348.25" y="378.10" font-size="10.8" font-weight="bold" font-style="normal" text-anchor="start" fill="#000" textLength="20.7" lengthAdjust="spacingAndGlyphs">1x10</text>
<text x="369.75" y="373.00" font-size="8.6" font-weight="normal" font-style="normal" text-anchor="start" fill="#000" >-10</text>
<line x1="352.00" y1="362.77" x2="352.00" y2="363.57" stroke="#000" stroke-width="1.0" />
<line x1="349.90" y1="362.77" x2="354.10" y2="362.77" stroke="#000" stroke-width="1.0" />
<rect x="348.90" y="363.57" width="6.20" height="0.93" fill="#fff" stroke="#000" stroke-width="0.9"/>
<line x1="360.60" y1="361.03" x2="360.60" y2="362.03" stroke="#000" stroke-width="1.0" />
<line x1="358.50" y1="361.03" x2="362.70" y2="361.03" stroke="#000" stroke-width="1.0" />
<rect x="357.50" y="362.03" width="6.20" height="2.47" fill="url(#chk)" stroke="#000" stroke-width="0.9"/>
<line x1="404.40" y1="364.50" x2="404.40" y2="366.50" stroke="#000" stroke-width="1.0" />
<text x="390.45" y="378.10" font-size="10.8" font-weight="bold" font-style="normal" text-anchor="start" fill="#000" textLength="20.7" lengthAdjust="spacingAndGlyphs">1x10</text>
<text x="411.95" y="373.00" font-size="8.6" font-weight="normal" font-style="normal" text-anchor="start" fill="#000" >-9</text>
<line x1="393.00" y1="332.68" x2="393.00" y2="336.68" stroke="#000" stroke-width="1.0" />
<line x1="390.90" y1="332.68" x2="395.10" y2="332.68" stroke="#000" stroke-width="1.0" />
<rect x="389.90" y="336.68" width="6.20" height="27.82" fill="#fff" stroke="#000" stroke-width="0.9"/>
<line x1="401.60" y1="308.49" x2="401.60" y2="310.09" stroke="#000" stroke-width="1.0" />
<line x1="399.50" y1="308.49" x2="403.70" y2="308.49" stroke="#000" stroke-width="1.0" />
<rect x="398.50" y="310.09" width="6.20" height="54.41" fill="url(#chk)" stroke="#000" stroke-width="0.9"/>
<text transform="translate(413.00,360.40) rotate(-90)" font-size="6.6" font-weight="bold" fill="#505050" letter-spacing="0">****</text>
<text transform="translate(421.60,360.40) rotate(-90)" font-size="6.6" font-weight="bold" fill="#505050" letter-spacing="0">****</text>
<line x1="444.60" y1="364.50" x2="444.60" y2="366.50" stroke="#000" stroke-width="1.0" />
<text x="430.65" y="378.10" font-size="10.8" font-weight="bold" font-style="normal" text-anchor="start" fill="#000" textLength="20.7" lengthAdjust="spacingAndGlyphs">1x10</text>
<text x="452.15" y="373.00" font-size="8.6" font-weight="normal" font-style="normal" text-anchor="start" fill="#000" >-8</text>
<line x1="434.00" y1="312.65" x2="434.00" y2="315.65" stroke="#000" stroke-width="1.0" />
<line x1="431.90" y1="312.65" x2="436.10" y2="312.65" stroke="#000" stroke-width="1.0" />
<rect x="430.90" y="315.65" width="6.20" height="48.85" fill="#fff" stroke="#000" stroke-width="0.9"/>
<line x1="442.60" y1="268.35" x2="442.60" y2="271.75" stroke="#000" stroke-width="1.0" />
<line x1="440.50" y1="268.35" x2="444.70" y2="268.35" stroke="#000" stroke-width="1.0" />
<rect x="439.50" y="271.75" width="6.20" height="92.75" fill="url(#chk)" stroke="#000" stroke-width="0.9"/>
<text transform="translate(454.00,360.40) rotate(-90)" font-size="6.6" font-weight="bold" fill="#505050" letter-spacing="0">****</text>
<text transform="translate(462.60,360.40) rotate(-90)" font-size="6.6" font-weight="bold" fill="#505050" letter-spacing="0">****</text>
<text x="385.50" y="393.50" font-size="11.5" font-weight="bold" font-style="normal" text-anchor="middle" fill="#000" >LPS Concentration (g/ml)</text>
<rect x="305.40" y="253.20" width="9.8" height="9.0" fill="#fff" stroke="#111" stroke-width="1"/>
<rect x="305.40" y="264.10" width="9.8" height="9.0" fill="url(#chk)" stroke="#111" stroke-width="1"/>
<rect x="305.40" y="275.00" width="9.8" height="9.0" fill="url(#hat)" stroke="#111" stroke-width="1"/>
<rect x="305.40" y="285.90" width="9.8" height="9.0" fill="#000" stroke="#111" stroke-width="1"/>
<text x="317.20" y="261.60" font-size="10.5" font-weight="normal" font-style="normal" text-anchor="start" fill="#000" textLength="16.0" lengthAdjust="spacingAndGlyphs">WT</text>
<text x="317.50" y="273.00" font-size="9.8" font-weight="normal" font-style="italic" text-anchor="start" fill="#000" textLength="13.6" lengthAdjust="spacingAndGlyphs">Tnf</text>
<text x="331.20" y="273.00" font-size="11.0" font-weight="normal" font-style="italic" text-anchor="start" fill="#000" textLength="7.0" lengthAdjust="spacingAndGlyphs">α</text>
<text x="338.50" y="269.10" font-size="7.6" font-weight="normal" font-style="italic" text-anchor="start" fill="#000" textLength="6.0" lengthAdjust="spacingAndGlyphs">-/-</text>
<text x="317.10" y="284.00" font-size="9.8" font-weight="normal" font-style="italic" text-anchor="start" fill="#000" textLength="10.4" lengthAdjust="spacingAndGlyphs">Il1</text>
<text x="329.50" y="284.00" font-size="11.0" font-weight="normal" font-style="italic" text-anchor="start" fill="#000" textLength="7.0" lengthAdjust="spacingAndGlyphs">α</text>
<text x="336.70" y="280.10" font-size="7.6" font-weight="normal" font-style="italic" text-anchor="start" fill="#000" textLength="5.8" lengthAdjust="spacingAndGlyphs">-/-</text>
<text x="342.60" y="284.00" font-size="9.8" font-weight="normal" font-style="italic" text-anchor="start" fill="#000" >/</text>
<text x="345.60" y="284.00" font-size="9.8" font-weight="normal" font-style="italic" text-anchor="start" fill="#000" textLength="10.0" lengthAdjust="spacingAndGlyphs">Il1</text>
<text x="357.80" y="284.00" font-size="11.0" font-weight="normal" font-style="italic" text-anchor="start" fill="#000" textLength="6.6" lengthAdjust="spacingAndGlyphs">β</text>
<text x="365.10" y="280.10" font-size="7.6" font-weight="normal" font-style="italic" text-anchor="start" fill="#000" textLength="5.8" lengthAdjust="spacingAndGlyphs">-/-</text>
<text x="317.50" y="294.60" font-size="9.8" font-weight="normal" font-style="italic" text-anchor="start" fill="#000" textLength="17.0" lengthAdjust="spacingAndGlyphs">Tlr2</text>
<text x="335.10" y="290.70" font-size="7.6" font-weight="normal" font-style="italic" text-anchor="start" fill="#000" textLength="6.0" lengthAdjust="spacingAndGlyphs">-/-</text>
<text x="341.80" y="294.60" font-size="9.8" font-weight="normal" font-style="italic" text-anchor="start" fill="#000" >/</text>
<text x="345.50" y="294.60" font-size="9.8" font-weight="normal" font-style="italic" text-anchor="start" fill="#000" textLength="17.9" lengthAdjust="spacingAndGlyphs">Tlr4</text>
<text x="364.60" y="290.70" font-size="7.6" font-weight="normal" font-style="italic" text-anchor="start" fill="#000" textLength="6.4" lengthAdjust="spacingAndGlyphs">-/-</text>
<text transform="translate(404.70,305.70) rotate(-90)" font-size="6.6" font-weight="bold" fill="#505050" letter-spacing="0">****</text>
<text transform="translate(446.40,266.60) rotate(-90)" font-size="6.6" font-weight="bold" fill="#505050" letter-spacing="0">****</text>
<line x1="516.40" y1="252.70" x2="516.40" y2="365.00" stroke="#000" stroke-width="1.2" />
<line x1="515.90" y1="364.50" x2="685.00" y2="364.50" stroke="#000" stroke-width="1.2" />
<line x1="513.80" y1="364.50" x2="516.40" y2="364.50" stroke="#000" stroke-width="1.1" />
<text x="514.10" y="368.40" font-size="11.5" font-weight="bold" font-style="normal" text-anchor="end" fill="#000" textLength="18.6" lengthAdjust="spacingAndGlyphs">0.00</text>
<line x1="513.80" y1="342.24" x2="516.40" y2="342.24" stroke="#000" stroke-width="1.1" />
<text x="514.10" y="346.14" font-size="11.5" font-weight="bold" font-style="normal" text-anchor="end" fill="#000" textLength="18.6" lengthAdjust="spacingAndGlyphs">0.05</text>
<line x1="513.80" y1="319.98" x2="516.40" y2="319.98" stroke="#000" stroke-width="1.1" />
<text x="514.10" y="323.88" font-size="11.5" font-weight="bold" font-style="normal" text-anchor="end" fill="#000" textLength="18.6" lengthAdjust="spacingAndGlyphs">0.10</text>
<line x1="513.80" y1="297.72" x2="516.40" y2="297.72" stroke="#000" stroke-width="1.1" />
<text x="514.10" y="301.62" font-size="11.5" font-weight="bold" font-style="normal" text-anchor="end" fill="#000" textLength="18.6" lengthAdjust="spacingAndGlyphs">0.15</text>
<line x1="513.80" y1="275.46" x2="516.40" y2="275.46" stroke="#000" stroke-width="1.1" />
<text x="514.10" y="279.36" font-size="11.5" font-weight="bold" font-style="normal" text-anchor="end" fill="#000" textLength="18.6" lengthAdjust="spacingAndGlyphs">0.20</text>
<line x1="513.80" y1="253.20" x2="516.40" y2="253.20" stroke="#000" stroke-width="1.1" />
<text x="514.10" y="257.10" font-size="11.5" font-weight="bold" font-style="normal" text-anchor="end" fill="#000" textLength="18.6" lengthAdjust="spacingAndGlyphs">0.25</text>
<text transform="translate(488.4,308.2) rotate(-90)" font-size="11.7" font-weight="bold" text-anchor="middle">Copies/β<tspan font-size="8" dy="2.4">2</tspan><tspan dy="-2.4"> Microglobulin</tspan></text>
<text x="600.50" y="238.00" font-size="12" font-weight="bold" font-style="normal" text-anchor="middle" fill="#000" >IL-6</text>
<line x1="537.80" y1="364.50" x2="537.80" y2="366.50" stroke="#000" stroke-width="1.0" />
<text x="537.40" y="378.20" font-size="10.8" font-weight="bold" font-style="normal" text-anchor="middle" fill="#000" textLength="18.2" lengthAdjust="spacingAndGlyphs">PBS</text>
<line x1="524.45" y1="360.14" x2="524.45" y2="360.94" stroke="#000" stroke-width="1.0" />
<line x1="522.35" y1="360.14" x2="526.55" y2="360.14" stroke="#000" stroke-width="1.0" />
<rect x="521.40" y="360.94" width="6.10" height="3.56" fill="#fff" stroke="#000" stroke-width="0.9"/>
<line x1="533.10" y1="363.01" x2="533.10" y2="363.61" stroke="#000" stroke-width="1.0" />
<line x1="531.00" y1="363.01" x2="535.20" y2="363.01" stroke="#000" stroke-width="1.0" />
<rect x="530.05" y="363.61" width="6.10" height="0.89" fill="url(#chk)" stroke="#000" stroke-width="0.9"/>
<line x1="541.75" y1="362.12" x2="541.75" y2="362.72" stroke="#000" stroke-width="1.0" />
<line x1="539.65" y1="362.12" x2="543.85" y2="362.12" stroke="#000" stroke-width="1.0" />
<rect x="538.70" y="362.72" width="6.10" height="1.78" fill="url(#hat)" stroke="#000" stroke-width="0.9"/>
<line x1="550.40" y1="363.01" x2="550.40" y2="363.61" stroke="#000" stroke-width="1.0" />
<line x1="548.30" y1="363.01" x2="552.50" y2="363.01" stroke="#000" stroke-width="1.0" />
<rect x="547.35" y="363.61" width="6.10" height="0.89" fill="#000" stroke="#000" stroke-width="0.9"/>
<line x1="579.40" y1="364.50" x2="579.40" y2="366.50" stroke="#000" stroke-width="1.0" />
<text x="563.25" y="378.10" font-size="10.8" font-weight="bold" font-style="normal" text-anchor="start" fill="#000" textLength="20.7" lengthAdjust="spacingAndGlyphs">1x10</text>
<text x="584.75" y="373.00" font-size="8.6" font-weight="normal" font-style="normal" text-anchor="start" fill="#000" >-10</text>
<line x1="566.15" y1="358.16" x2="566.15" y2="359.16" stroke="#000" stroke-width="1.0" />
<line x1="564.05" y1="358.16" x2="568.25" y2="358.16" stroke="#000" stroke-width="1.0" />
<rect x="563.10" y="359.16" width="6.10" height="5.34" fill="#fff" stroke="#000" stroke-width="0.9"/>
<line x1="574.80" y1="363.01" x2="574.80" y2="363.61" stroke="#000" stroke-width="1.0" />
<line x1="572.70" y1="363.01" x2="576.90" y2="363.01" stroke="#000" stroke-width="1.0" />
<rect x="571.75" y="363.61" width="6.10" height="0.89" fill="url(#chk)" stroke="#000" stroke-width="0.9"/>
<line x1="583.45" y1="361.47" x2="583.45" y2="362.27" stroke="#000" stroke-width="1.0" />
<line x1="581.35" y1="361.47" x2="585.55" y2="361.47" stroke="#000" stroke-width="1.0" />
<rect x="580.40" y="362.27" width="6.10" height="2.23" fill="url(#hat)" stroke="#000" stroke-width="0.9"/>
<line x1="592.10" y1="363.01" x2="592.10" y2="363.61" stroke="#000" stroke-width="1.0" />
<line x1="590.00" y1="363.01" x2="594.20" y2="363.01" stroke="#000" stroke-width="1.0" />
<rect x="589.05" y="363.61" width="6.10" height="0.89" fill="#000" stroke="#000" stroke-width="0.9"/>
<line x1="620.60" y1="364.50" x2="620.60" y2="366.50" stroke="#000" stroke-width="1.0" />
<text x="606.65" y="378.10" font-size="10.8" font-weight="bold" font-style="normal" text-anchor="start" fill="#000" textLength="20.7" lengthAdjust="spacingAndGlyphs">1x10</text>
<text x="628.15" y="373.00" font-size="8.6" font-weight="normal" font-style="normal" text-anchor="start" fill="#000" >-9</text>
<line x1="607.85" y1="334.65" x2="607.85" y2="336.45" stroke="#000" stroke-width="1.0" />
<line x1="605.75" y1="334.65" x2="609.95" y2="334.65" stroke="#000" stroke-width="1.0" />
<rect x="604.80" y="336.45" width="6.10" height="28.05" fill="#fff" stroke="#000" stroke-width="0.9"/>
<line x1="616.50" y1="357.96" x2="616.50" y2="359.16" stroke="#000" stroke-width="1.0" />
<line x1="614.40" y1="357.96" x2="618.60" y2="357.96" stroke="#000" stroke-width="1.0" />
<rect x="613.45" y="359.16" width="6.10" height="5.34" fill="url(#chk)" stroke="#000" stroke-width="0.9"/>
<line x1="625.15" y1="354.44" x2="625.15" y2="356.04" stroke="#000" stroke-width="1.0" />
<line x1="623.05" y1="354.44" x2="627.25" y2="354.44" stroke="#000" stroke-width="1.0" />
<rect x="622.10" y="356.04" width="6.10" height="8.46" fill="url(#hat)" stroke="#000" stroke-width="0.9"/>
<line x1="633.80" y1="363.01" x2="633.80" y2="363.61" stroke="#000" stroke-width="1.0" />
<line x1="631.70" y1="363.01" x2="635.90" y2="363.01" stroke="#000" stroke-width="1.0" />
<rect x="630.75" y="363.61" width="6.10" height="0.89" fill="#000" stroke="#000" stroke-width="0.9"/>
<line x1="662.40" y1="364.50" x2="662.40" y2="366.50" stroke="#000" stroke-width="1.0" />
<text x="648.45" y="378.10" font-size="10.8" font-weight="bold" font-style="normal" text-anchor="start" fill="#000" textLength="20.7" lengthAdjust="spacingAndGlyphs">1x10</text>
<text x="669.95" y="373.00" font-size="8.6" font-weight="normal" font-style="normal" text-anchor="start" fill="#000" >-8</text>
<line x1="649.55" y1="263.62" x2="649.55" y2="265.22" stroke="#000" stroke-width="1.0" />
<line x1="647.45" y1="263.62" x2="651.65" y2="263.62" stroke="#000" stroke-width="1.0" />
<rect x="646.50" y="265.22" width="6.10" height="99.28" fill="#fff" stroke="#000" stroke-width="0.9"/>
<line x1="658.20" y1="325.16" x2="658.20" y2="330.66" stroke="#000" stroke-width="1.0" />
<line x1="656.10" y1="325.16" x2="660.30" y2="325.16" stroke="#000" stroke-width="1.0" />
<rect x="655.15" y="330.66" width="6.10" height="33.84" fill="url(#chk)" stroke="#000" stroke-width="0.9"/>
<line x1="666.85" y1="318.36" x2="666.85" y2="321.76" stroke="#000" stroke-width="1.0" />
<line x1="664.75" y1="318.36" x2="668.95" y2="318.36" stroke="#000" stroke-width="1.0" />
<rect x="663.80" y="321.76" width="6.10" height="42.74" fill="url(#hat)" stroke="#000" stroke-width="0.9"/>
<line x1="675.50" y1="363.01" x2="675.50" y2="363.61" stroke="#000" stroke-width="1.0" />
<line x1="673.40" y1="363.01" x2="677.60" y2="363.01" stroke="#000" stroke-width="1.0" />
<rect x="672.45" y="363.61" width="6.10" height="0.89" fill="#000" stroke="#000" stroke-width="0.9"/>
<text x="599.90" y="393.50" font-size="11.5" font-weight="bold" font-style="normal" text-anchor="middle" fill="#000" >LPS Concentration (g/ml)</text>
<rect x="519.70" y="253.80" width="9.8" height="9.0" fill="#fff" stroke="#111" stroke-width="1"/>
<rect x="519.70" y="264.70" width="9.8" height="9.0" fill="url(#chk)" stroke="#111" stroke-width="1"/>
<rect x="519.70" y="275.60" width="9.8" height="9.0" fill="url(#hat)" stroke="#111" stroke-width="1"/>
<rect x="519.70" y="286.50" width="9.8" height="9.0" fill="#000" stroke="#111" stroke-width="1"/>
<text x="531.50" y="262.20" font-size="10.5" font-weight="normal" font-style="normal" text-anchor="start" fill="#000" textLength="16.0" lengthAdjust="spacingAndGlyphs">WT</text>
<text x="531.80" y="273.60" font-size="9.8" font-weight="normal" font-style="italic" text-anchor="start" fill="#000" textLength="13.6" lengthAdjust="spacingAndGlyphs">Tnf</text>
<text x="545.50" y="273.60" font-size="11.0" font-weight="normal" font-style="italic" text-anchor="start" fill="#000" textLength="7.0" lengthAdjust="spacingAndGlyphs">α</text>
<text x="552.80" y="269.70" font-size="7.6" font-weight="normal" font-style="italic" text-anchor="start" fill="#000" textLength="6.0" lengthAdjust="spacingAndGlyphs">-/-</text>
<text x="531.40" y="284.60" font-size="9.8" font-weight="normal" font-style="italic" text-anchor="start" fill="#000" textLength="10.4" lengthAdjust="spacingAndGlyphs">Il1</text>
<text x="543.80" y="284.60" font-size="11.0" font-weight="normal" font-style="italic" text-anchor="start" fill="#000" textLength="7.0" lengthAdjust="spacingAndGlyphs">α</text>
<text x="551.00" y="280.70" font-size="7.6" font-weight="normal" font-style="italic" text-anchor="start" fill="#000" textLength="5.8" lengthAdjust="spacingAndGlyphs">-/-</text>
<text x="556.90" y="284.60" font-size="9.8" font-weight="normal" font-style="italic" text-anchor="start" fill="#000" >/</text>
<text x="559.90" y="284.60" font-size="9.8" font-weight="normal" font-style="italic" text-anchor="start" fill="#000" textLength="10.0" lengthAdjust="spacingAndGlyphs">Il1</text>
<text x="572.10" y="284.60" font-size="11.0" font-weight="normal" font-style="italic" text-anchor="start" fill="#000" textLength="6.6" lengthAdjust="spacingAndGlyphs">β</text>
<text x="579.40" y="280.70" font-size="7.6" font-weight="normal" font-style="italic" text-anchor="start" fill="#000" textLength="5.8" lengthAdjust="spacingAndGlyphs">-/-</text>
<text x="531.80" y="295.20" font-size="9.8" font-weight="normal" font-style="italic" text-anchor="start" fill="#000" textLength="17.0" lengthAdjust="spacingAndGlyphs">Tlr2</text>
<text x="549.40" y="291.30" font-size="7.6" font-weight="normal" font-style="italic" text-anchor="start" fill="#000" textLength="6.0" lengthAdjust="spacingAndGlyphs">-/-</text>
<text x="556.10" y="295.20" font-size="9.8" font-weight="normal" font-style="italic" text-anchor="start" fill="#000" >/</text>
<text x="559.80" y="295.20" font-size="9.8" font-weight="normal" font-style="italic" text-anchor="start" fill="#000" textLength="17.9" lengthAdjust="spacingAndGlyphs">Tlr4</text>
<text x="578.90" y="291.30" font-size="7.6" font-weight="normal" font-style="italic" text-anchor="start" fill="#000" textLength="6.4" lengthAdjust="spacingAndGlyphs">-/-</text>
<text transform="translate(619.10,356.10) rotate(-90)" font-size="6.6" font-weight="bold" fill="#505050" letter-spacing="0">****</text>
<text transform="translate(627.80,352.10) rotate(-90)" font-size="6.6" font-weight="bold" fill="#505050" letter-spacing="0">****</text>
<text transform="translate(637.10,360.80) rotate(-90)" font-size="6.6" font-weight="bold" fill="#505050" letter-spacing="0">****</text>
<text transform="translate(660.00,322.60) rotate(-90)" font-size="6.6" font-weight="bold" fill="#505050" letter-spacing="0">****</text>
<text transform="translate(669.00,314.80) rotate(-90)" font-size="6.6" font-weight="bold" fill="#505050" letter-spacing="0">****</text>
<text transform="translate(677.90,360.80) rotate(-90)" font-size="6.6" font-weight="bold" fill="#505050" letter-spacing="0">****</text>
</svg>
</body></html>
